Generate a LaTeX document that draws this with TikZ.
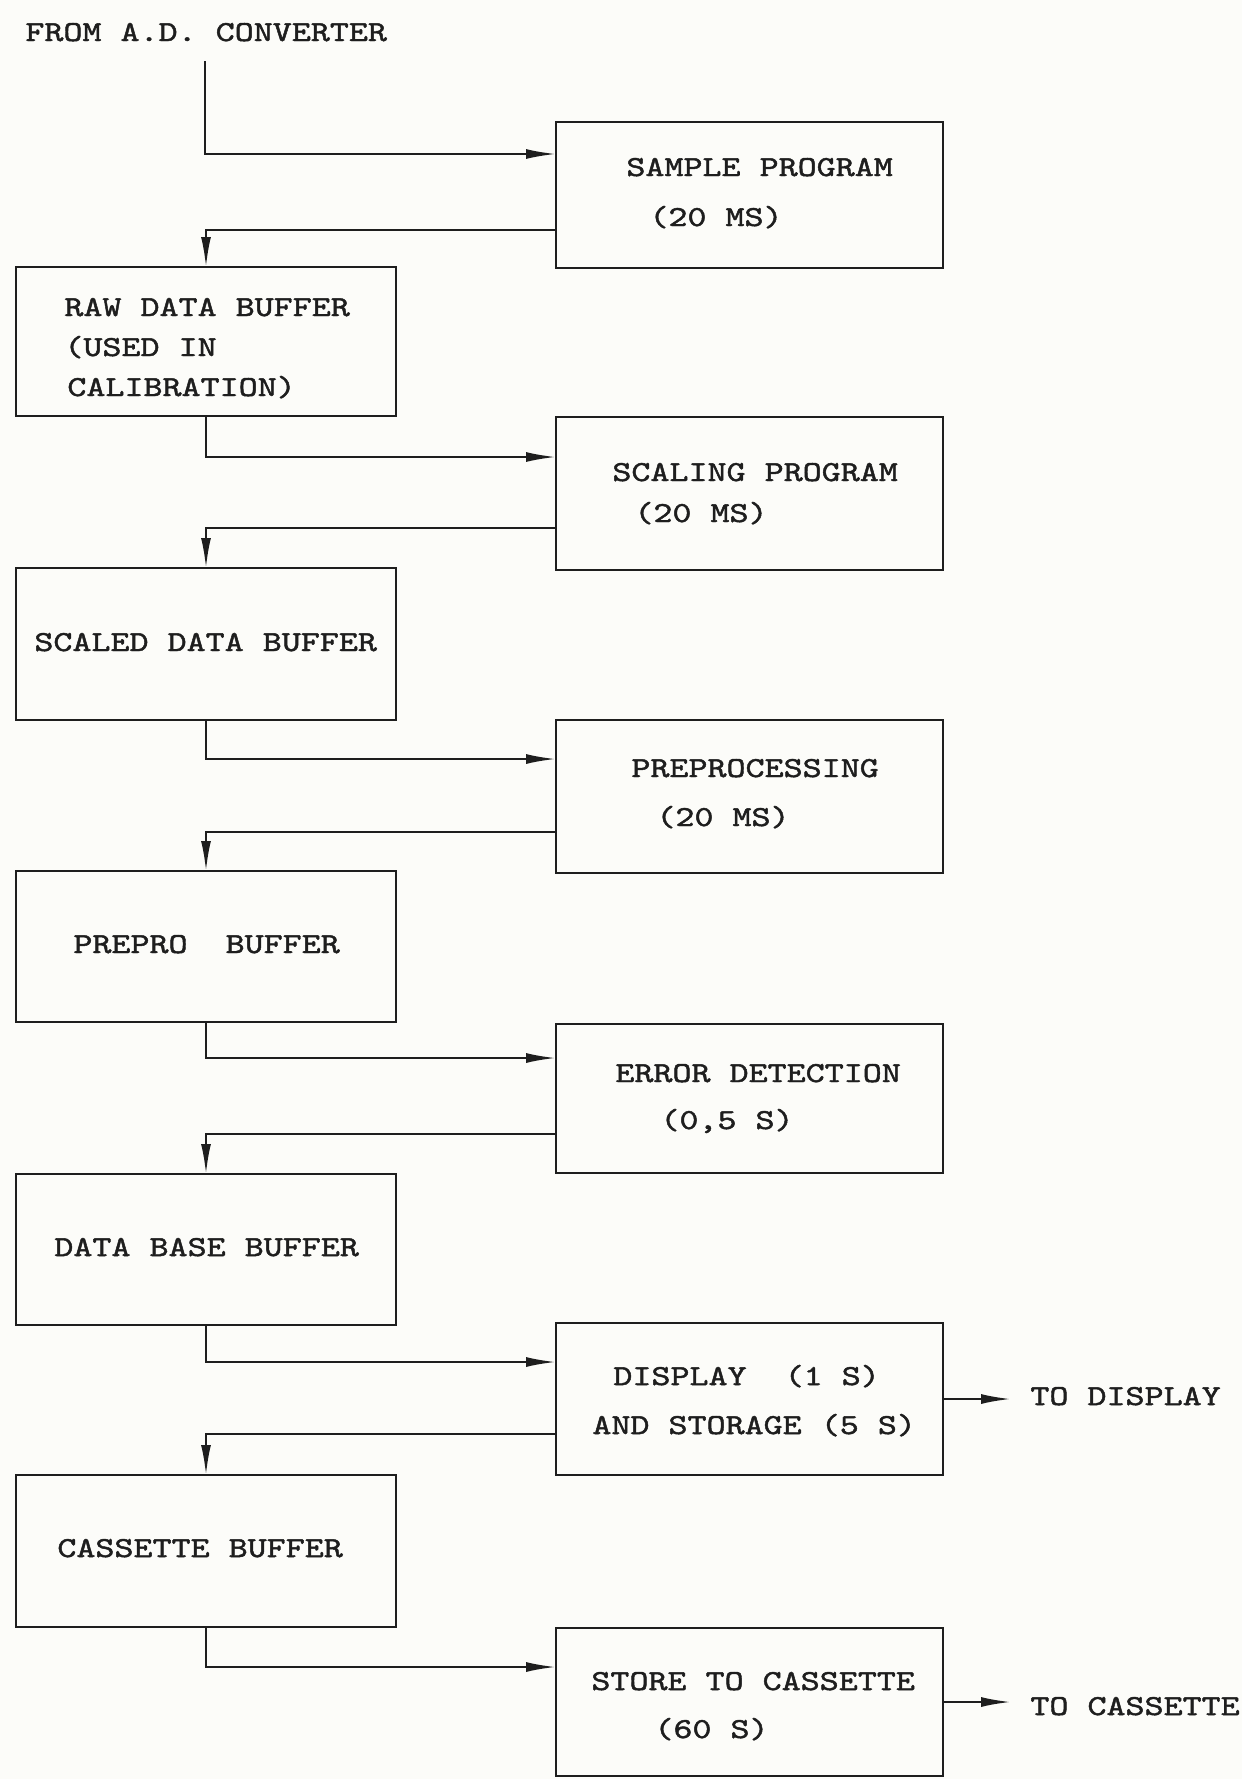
\documentclass[tikz,border=0pt]{standalone}
\usepackage{fontspec}
\newfontfamily\tw{lmmono10-regular.otf}[FakeStretch=1.25,FakeBold=1.6]
\usetikzlibrary{arrows.meta,calc,fit}
\definecolor{paper}{RGB}{252,252,249}
\definecolor{ink}{RGB}{30,30,30}
\begin{document}
\begin{tikzpicture}[x=0.5pt,y=-0.5pt,
  box/.style={draw=ink,line width=1.4pt,inner sep=0pt,outer sep=0pt,rectangle},
  lbl/.style={anchor=base west,inner sep=0pt,text=ink,font=\tw\fontsize{14.5}{17}\selectfont},
  conn/.style={draw=ink,line width=1.1pt},
  arr/.style={conn,-{Latex[length=15pt,width=5pt]}}]
\fill[paper] (0,0) rectangle (1242,1779);
\useasboundingbox (0,0) rectangle (1242,1779);

% boxes
\node[box,fit={(556,122) (943,268)}] (sample) {};
\node[box,fit={(16,267) (396,416)}] (raw) {};
\node[box,fit={(556,417) (943,570)}] (scaling) {};
\node[box,fit={(16,568) (396,720)}] (scaled) {};
\node[box,fit={(556,720) (943,873)}] (prepro) {};
\node[box,fit={(16,871) (396,1022)}] (preprobuf) {};
\node[box,fit={(556,1024) (943,1173)}] (error) {};
\node[box,fit={(16,1174) (396,1325)}] (database) {};
\node[box,fit={(556,1323) (943,1475)}] (display) {};
\node[box,fit={(16,1475) (396,1627)}] (cassette) {};
\node[box,fit={(556,1628) (943,1776)}] (store) {};

% texts
\node[lbl] (from) at (25,41) {FROM A.D. CONVERTER};
\node[lbl] (t1a) at (626,176) {SAMPLE PROGRAM};
\node[lbl] (t1b) at (649,226) {(20 MS)};
\node[lbl] (t2a) at (64,316) {RAW DATA BUFFER};
\node[lbl] (t2b) at (64,356) {(USED IN};
\node[lbl] (t2c) at (67,396) {CALIBRATION)};
\node[lbl] (t3a) at (612,481) {SCALING PROGRAM};
\node[lbl] (t3b) at (634,522) {(20 MS)};
\node[lbl] (t4a) at (34,651) {SCALED DATA BUFFER};
\node[lbl] (t5a) at (631,777) {PREPROCESSING};
\node[lbl] (t5b) at (656,826) {(20 MS)};
\node[lbl] (t6a) at (73,953) {PREPRO\ \ BUFFER};
\node[lbl] (t7a) at (615,1082) {ERROR DETECTION};
\node[lbl] (t7b) at (660,1129) {(0,5 S)};
\node[lbl] (t8a) at (54,1256) {DATA BASE BUFFER};
\node[lbl] (t9a) at (613,1385) {DISPLAY\ \ (1 S)};
\node[lbl] (t9b) at (592,1434) {AND STORAGE (5 S)};
\node[lbl] (t10a) at (57,1557) {CASSETTE BUFFER};
\node[lbl] (t11a) at (591,1690) {STORE TO CASSETTE};
\node[lbl] (t11b) at (654,1738) {(60 S)};
\node[lbl] (todisp) at (1030,1405) {TO DISPLAY};
\node[lbl] (tocass) at (1030,1715) {TO CASSETTE};

% ports
\coordinate (fromend) at (205,61);
\coordinate (sampleIn) at ($(sample.north west)+(0,32)$);
\coordinate (sampleRet) at ($(sample.north west)+(0,108)$);
\coordinate (scalingIn) at ($(scaling.north west)+(0,40)$);
\coordinate (scalingRet) at ($(scaling.north west)+(0,111)$);
\coordinate (preproIn) at ($(prepro.north west)+(0,39)$);
\coordinate (preproRet) at ($(prepro.north west)+(0,112)$);
\coordinate (errorIn) at ($(error.north west)+(0,34)$);
\coordinate (errorRet) at ($(error.north west)+(0,110)$);
\coordinate (displayIn) at ($(display.north west)+(0,39)$);
\coordinate (displayRet) at ($(display.north west)+(0,111)$);
\coordinate (storeIn) at ($(store.north west)+(0,39)$);

% connectors
\draw[arr] (fromend) |- (sampleIn);
\draw[arr] (sampleRet) -| (raw.north);
\draw[arr] (raw.south) |- (scalingIn);
\draw[arr] (scalingRet) -| (scaled.north);
\draw[arr] (scaled.south) |- (preproIn);
\draw[arr] (preproRet) -| (preprobuf.north);
\draw[arr] (preprobuf.south) |- (errorIn);
\draw[arr] (errorRet) -| (database.north);
\draw[arr] (database.south) |- (displayIn);
\draw[arr] (displayRet) -| (cassette.north);
\draw[arr] (cassette.south) |- (storeIn);
\draw[arr,shorten >=9.5pt] (display.east) -- (display.east -| todisp.west);
\draw[arr,shorten >=9.5pt] (store.east) -- (store.east -| tocass.west);
\end{tikzpicture}
\end{document}
